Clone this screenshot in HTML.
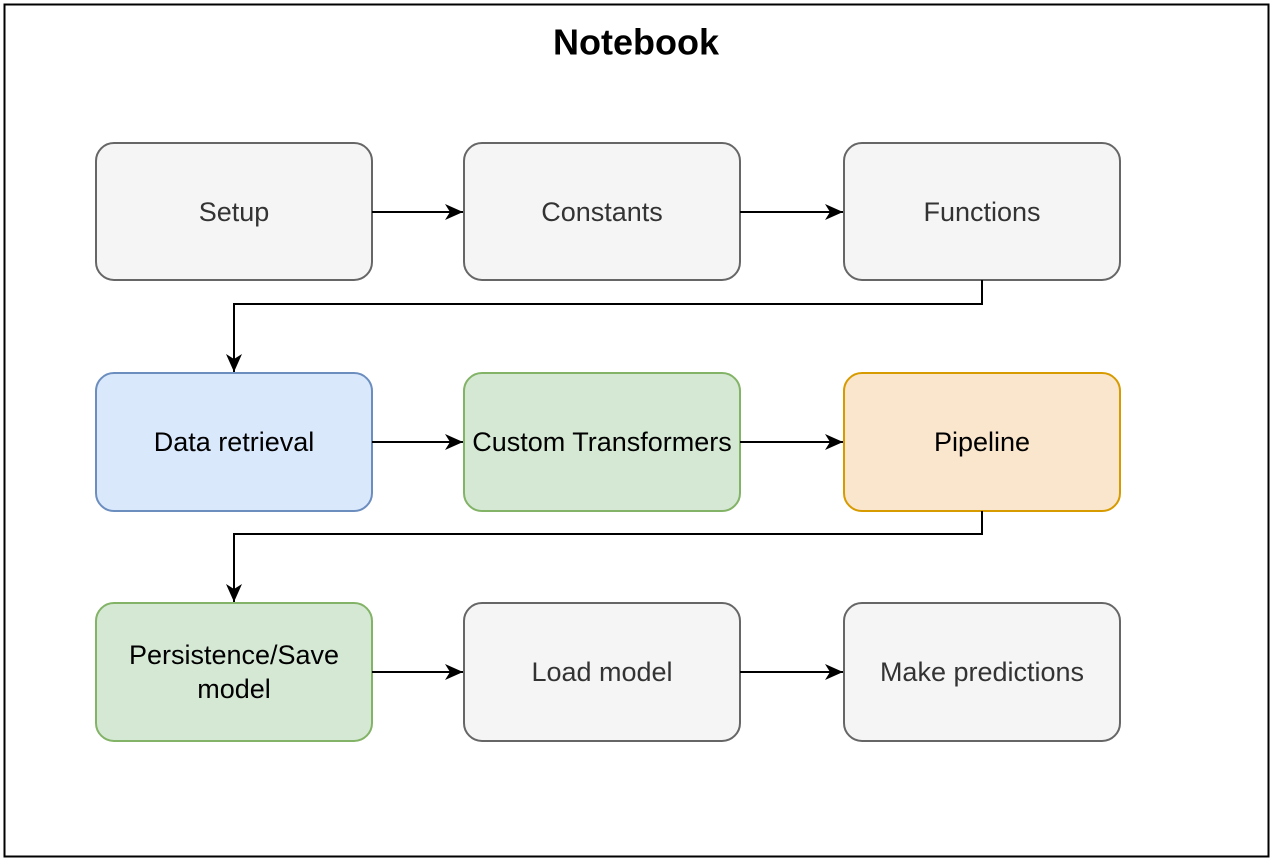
<!DOCTYPE html>
<html><head><meta charset="utf-8"><style>
html,body{margin:0;padding:0;background:#fff;}
svg{display:block;}
text{font-family:"Liberation Sans",Arial,sans-serif;font-size:27px;text-anchor:middle;dominant-baseline:central;}
</style></head><body>
<svg width="1274" height="862" viewBox="0 0 1274 862">
<defs>
<marker id="b" markerWidth="20" markerHeight="20" refX="18" refY="8" orient="auto" markerUnits="userSpaceOnUse"><path d="M0,0 L18,8 L0,16 L5,8 Z" fill="#000"/></marker></defs>
<rect x="4.5" y="4.5" width="1264" height="852" fill="#fff" stroke="#000" stroke-width="2"/>
<text x="636" y="42" style="font-size:36px;font-weight:bold" fill="#000">Notebook</text>
<g stroke-width="2">
<rect x="96" y="143" width="276" height="137" rx="18" fill="#f5f5f5" stroke="#666"/>
<rect x="464" y="143" width="276" height="137" rx="18" fill="#f5f5f5" stroke="#666"/>
<rect x="844" y="143" width="276" height="137" rx="18" fill="#f5f5f5" stroke="#666"/>
<rect x="96" y="373" width="276" height="138" rx="18" fill="#dae8fc" stroke="#6c8ebf"/>
<rect x="464" y="373" width="276" height="138" rx="18" fill="#d5e8d4" stroke="#82b366"/>
<rect x="844" y="373" width="276" height="138" rx="18" fill="#fae5cd" stroke="#d79b00"/>
<rect x="96" y="603" width="276" height="138" rx="18" fill="#d5e8d4" stroke="#82b366"/>
<rect x="464" y="603" width="276" height="138" rx="18" fill="#f5f5f5" stroke="#666"/>
<rect x="844" y="603" width="276" height="138" rx="18" fill="#f5f5f5" stroke="#666"/>
</g>
<g stroke="#000" stroke-width="2" fill="none" marker-end="url(#b)">
<path d="M372 212 H463"/><path d="M740 212 H843"/>
<path d="M982 280 V304 H234 V372"/>
<path d="M372 442 H463"/><path d="M740 442 H843"/>
<path d="M982 511 V534 H234 V602"/>
<path d="M372 672 H463"/><path d="M740 672 H843"/>
</g>
<g fill="#333">
<text x="234" y="212">Setup</text>
<text x="602" y="212">Constants</text>
<text x="982" y="212">Functions</text>
<text x="602" y="672">Load model</text>
<text x="982" y="672">Make predictions</text>
</g>
<g fill="#000">
<text x="234" y="442">Data retrieval</text>
<text x="602" y="442">Custom Transformers</text>
<text x="982" y="442">Pipeline</text>
<text x="234" y="655">Persistence/Save</text>
<text x="234" y="689">model</text>
</g>
</svg>
</body></html>
